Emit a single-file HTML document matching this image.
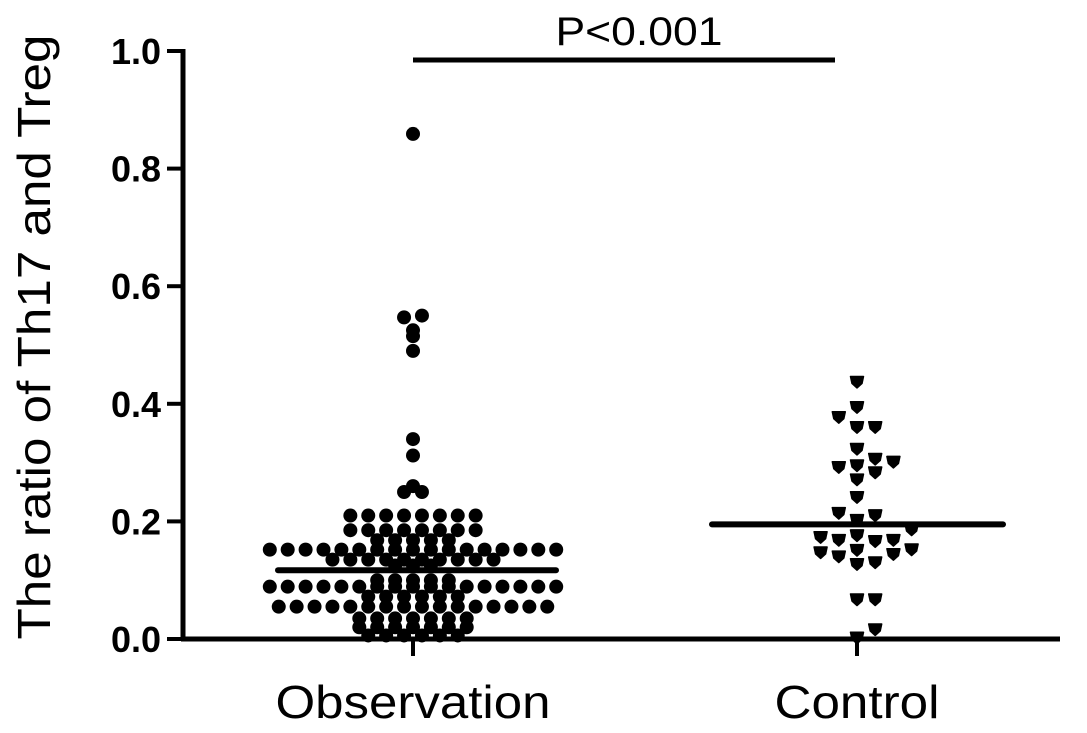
<!DOCTYPE html>
<html><head><meta charset="utf-8"><style>
html,body{margin:0;padding:0;background:#fff;}
svg{display:block;font-family:"Liberation Sans",Arial,sans-serif;}
</style></head><body>
<svg id="chart" width="1087" height="733" viewBox="0 0 1087 733" xmlns="http://www.w3.org/2000/svg">
<g id="axes"></g>
<g id="marks"></g>
</svg>
<script>
const categories = ["Observation", "Control"];
const yTicks = [0.0, 0.2, 0.4, 0.6, 0.8, 1.0];
const yTickLabels = ["0.0", "0.2", "0.4", "0.6", "0.8", "1.0"];
const observationValues = [
 0.859,
 0.55,0.547,0.525,0.515,0.49,
 0.34,0.312,
 0.26,0.25,0.25,
 0.21,0.21,0.21,0.21,0.21,0.21,0.21,0.21,
 0.185,0.185,0.185,0.185,0.185,0.185,0.185,0.185,
 0.168,0.168,0.168,0.168,0.168,
 0.152,0.152,0.152,0.152,0.152,0.152,0.152,0.152,0.152,0.152,0.152,0.152,0.152,0.152,0.152,0.152,0.152,
 0.135,0.135,0.135,0.135,0.135,0.135,0.135,0.135,0.135,0.135,
 0.125,0.125,0.125,
 0.10,0.10,0.10,0.10,0.10,
 0.089,0.089,0.089,0.089,0.089,0.089,0.089,0.089,0.089,0.089,0.089,0.089,0.089,0.089,0.089,0.089,0.089,
 0.072,0.072,0.072,0.072,0.072,0.072,
 0.055,0.055,0.055,0.055,0.055,0.055,0.055,0.055,0.055,0.055,0.055,0.055,0.055,0.055,0.055,0.055,
 0.035,0.035,0.035,0.035,0.035,0.035,0.035,
 0.02,0.02,0.02,0.02,0.02,0.02,0.02,
 0.006,0.006,0.006,0.006,0.006,0.006
];
const controlValues = [
 0.438,0.395,0.378,0.361,0.361,0.324,
 0.307,0.296,0.284,0.293,0.302,0.272,0.242,
 0.215,0.203,0.211,
 0.187,0.174,0.169,0.167,0.169,0.177,
 0.153,0.148,0.141,0.128,0.131,0.145,0.152,
 0.068,0.068,0.017,0.003
];
const medians = [0.117, 0.195];
const pLabel = "P<0.001";

const NS="http://www.w3.org/2000/svg";
const X0=183, Y0=639, YTOP=51;
const yScale = v => Y0 - v*(Y0-YTOP);
const xCenters = [413, 857];
const xScale = i => xCenters[i];
function mk(tag, attrs, parent){const e=document.createElementNS(NS,tag);for(const k in attrs)e.setAttribute(k,attrs[k]);parent.appendChild(e);return e;}
const axes=document.getElementById('axes'), marks=document.getElementById('marks');

let e;
e=mk('line',{x1:X0,y1:YTOP-2,x2:X0,y2:Y0+2,stroke:'#000','stroke-width':5},axes);


e=mk('line',{x1:X0-2,y1:Y0,x2:1060,y2:Y0,stroke:'#000','stroke-width':5},axes);


yTicks.forEach((t,i)=>{
  const y=yScale(t);
  let tk=mk('line',{x1:X0-16,y1:y,x2:X0,y2:y,stroke:'#000','stroke-width':4},axes);
  
  
  let tl=mk('text',{x:X0-22,y:y+13,'text-anchor':'end','font-size':36,'font-weight':'bold'},axes);
  tl.textContent=yTickLabels[i];
  
  
});
const catLens=[275,165];
categories.forEach((c,i)=>{
  const x=xScale(i);
  let tk=mk('line',{x1:x,y1:Y0,x2:x,y2:Y0+17,stroke:'#000','stroke-width':4},axes);
  
  
  let tl=mk('text',{x:x,y:718,'text-anchor':'middle','font-size':46,textLength:catLens[i],lengthAdjust:'spacingAndGlyphs'},axes);
  tl.textContent=c;
  
  
});
e=mk('text',{x:0,y:0,'text-anchor':'middle','font-size':46,transform:'translate(50,337) rotate(-90)',textLength:605,lengthAdjust:'spacingAndGlyphs'},axes);
e.textContent="The ratio of Th17 and Treg";


e=mk('line',{x1:xScale(0),y1:60,x2:835,y2:60,stroke:'#000','stroke-width':5},axes);


e=mk('text',{x:639,y:45,'text-anchor':'middle','font-size':40,textLength:167,lengthAdjust:'spacingAndGlyphs'},axes);
e.textContent=pLabel;



// row-based layout: group near-equal values into rows, centred on the category
function rows(values, cx, step){
  const sorted=values.slice().sort((a,b)=>a-b);
  const groups=[]; let g=null;
  sorted.forEach(v=>{
    if(!g || v-g.start>0.006){g={start:v,vals:[]};groups.push(g);}
    g.vals.push(v);
  });
  const out=[];
  groups.forEach(gr=>{
    const n=gr.vals.length;
    gr.vals.forEach((v,j)=>out.push({x:cx+(j-(n-1)/2)*step,y:yScale(v)}));
  });
  return out;
}
function swarm(values, cx, step, minD){
  const placed=[];
  const sorted=values.slice().sort((a,b)=>a-b);
  sorted.forEach(v=>{
    const y=yScale(v);
    for(let k=0;k<60;k++){
      const off = k===0?0:(k%2? Math.ceil(k/2): -Math.ceil(k/2))*step;
      const x=cx+off;
      if(placed.every(p=>Math.hypot(p.x-x,p.y-y)>=minD)){placed.push({x,y});break;}
    }
  });
  return placed;
}
rows(observationValues, xScale(0), 17.9).forEach(p=>{
  let c=mk('circle',{cx:p.x,cy:p.y,r:7,fill:'#000'},marks);
  
  
});
swarm(controlValues, xScale(1), 18.2, 13).forEach(p=>{
  let c=mk('path',{d:`M${p.x-6.5},${p.y-5} L${p.x+6.5},${p.y-5} L${p.x+5},${p.y+2} L${p.x},${p.y+6.5} L${p.x-5},${p.y+2} Z`,fill:'#000','stroke':'#000','stroke-width':1.5,'stroke-linejoin':'round'},marks);
  
  
});
const medianExtents=[[278,556],[712,1003]];
medians.forEach((m,i)=>{
  let l=mk('line',{x1:medianExtents[i][0],y1:yScale(m),x2:medianExtents[i][1],y2:yScale(m),stroke:'#000','stroke-width':6,'stroke-linecap':'round'},marks);
  
  
});
</script>
</body></html>
